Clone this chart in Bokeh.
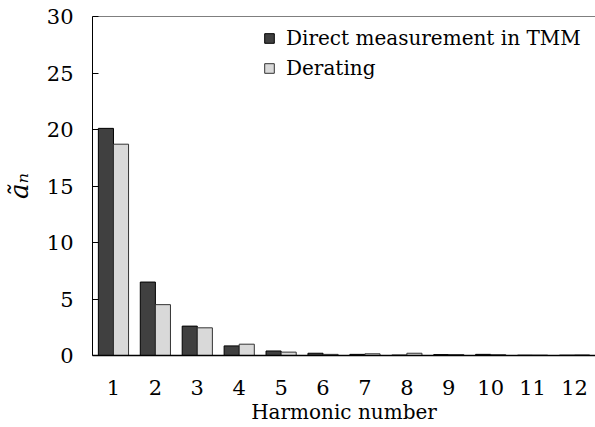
from bokeh.plotting import figure
from bokeh.models import FactorRange, Range1d, ColumnDataSource, Legend, LegendItem, Span, FixedTicker
from bokeh.transform import dodge
from bokeh.embed import file_html
from bokeh.resources import INLINE

harmonics = ["1", "2", "3", "4", "5", "6", "7", "8", "9", "10", "11", "12"]
direct_tmm = [20.1, 6.5, 2.6, 0.85, 0.4, 0.2, 0.1, 0.04, 0.08, 0.1, 0.03, 0.03]
derating = [18.7, 4.5, 2.45, 1.0, 0.3, 0.1, 0.15, 0.2, 0.08, 0.07, 0.03, 0.05]
y_ticks = [0, 5, 10, 15, 20, 25, 30]

FONT = "DejaVu Serif"

src = ColumnDataSource(dict(h=harmonics, d=direct_tmm, r=derating))

p = figure(x_range=FactorRange(*harmonics, range_padding=0), y_range=Range1d(0, 30),
           width=595, height=427, output_backend="svg", toolbar_location=None,
           min_border_left=92, min_border_top=16, min_border_right=0, min_border_bottom=72)
p.x_range.factor_padding = 0
p.outline_line_color = None
p.grid.visible = False

r1 = p.vbar(x=dodge("h", -0.18, range=p.x_range), top="d", width=0.36, source=src,
            fill_color="#404040", line_color="black", line_width=1)
r2 = p.vbar(x=dodge("h", 0.18, range=p.x_range), top="r", width=0.36, source=src,
            fill_color="#d9d9d9", line_color="#333333", line_width=1)

p.add_layout(Span(location=30, dimension="width", line_color="black", line_width=1))

yax = p.yaxis[0]
yax.ticker = FixedTicker(ticks=y_ticks)
yax.major_tick_in = 6
yax.major_tick_out = 0
yax.minor_tick_line_color = None
yax.axis_line_color = "black"
yax.major_tick_line_color = "black"
yax.major_label_text_font = FONT
yax.major_label_text_font_size = "21px"
yax.major_label_text_color = "black"
yax.major_label_standoff = 19
yax.axis_label = "ãₙ"
yax.axis_label_text_font = FONT
yax.axis_label_text_font_style = "italic"
yax.axis_label_text_font_size = "26px"
yax.axis_label_text_color = "black"
yax.axis_label_standoff = 10

xax = p.xaxis[0]
xax.major_tick_line_color = None
xax.minor_tick_line_color = None
xax.axis_line_color = "black"
xax.axis_line_width = 1.5
xax.major_label_text_font = FONT
xax.major_label_text_font_size = "21px"
xax.major_label_text_color = "black"
xax.major_label_standoff = 18
xax.axis_label = "Harmonic number"
xax.axis_label_text_font = FONT
xax.axis_label_text_font_style = "normal"
xax.axis_label_text_font_size = "20px"
xax.axis_label_text_color = "black"
xax.axis_label_standoff = 2

legend = Legend(items=[LegendItem(label="Direct measurement in TMM", renderers=[r1]),
                       LegendItem(label="Derating", renderers=[r2])],
                location="top_right")
legend.border_line_color = None
legend.background_fill_alpha = 0
legend.label_text_font = FONT
legend.label_text_font_size = "20px"
legend.label_text_color = "black"
legend.glyph_width = 12
legend.glyph_height = 12
legend.spacing = 0
legend.padding = 7
legend.margin = 7
legend.label_standoff = 11
legend.label_height = 30
legend.label_width = 302
p.add_layout(legend)

open("out.html", "w").write(file_html(p, INLINE))
